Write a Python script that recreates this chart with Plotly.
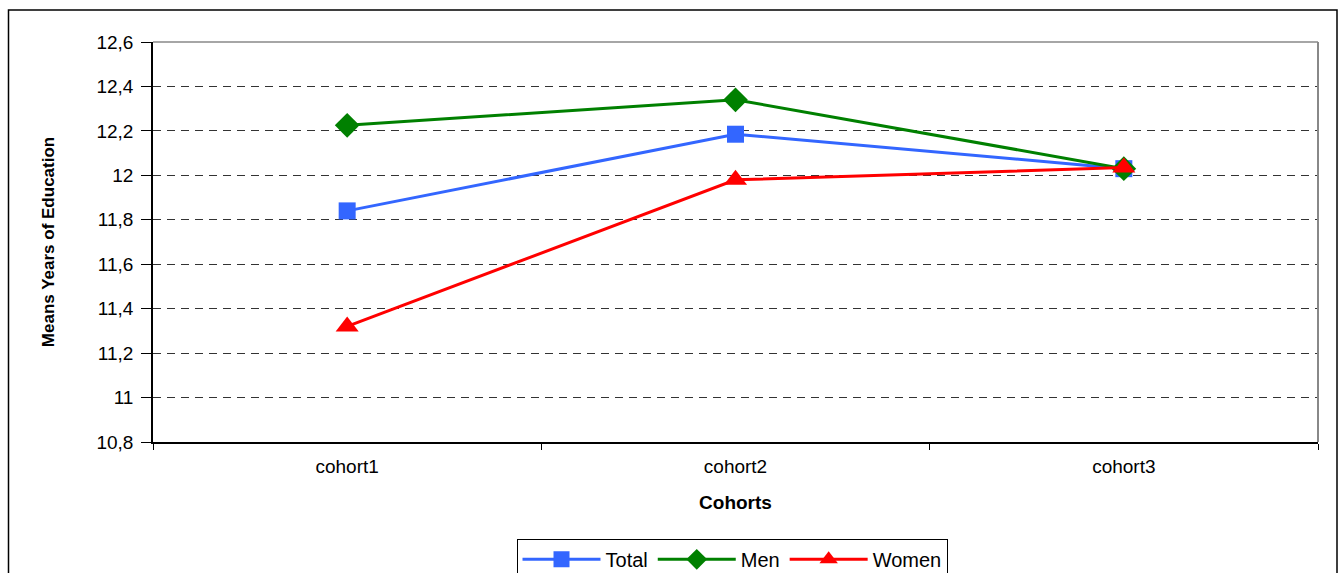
import plotly.graph_objects as go

categories = ["cohort1", "cohort2", "cohort3"]
total = [11.84, 12.185, 12.03]
men = [12.225, 12.34, 12.03]
women = [11.32, 11.98, 12.035]
y_tickvals = [10.8, 11.0, 11.2, 11.4, 11.6, 11.8, 12.0, 12.2, 12.4, 12.6]
y_ticktext = ["10,8", "11", "11,2", "11,4", "11,6", "11,8", "12", "12,2", "12,4", "12,6"]

FONT = "Liberation Sans, Arial, sans-serif"

fig = go.Figure()
fig.add_trace(go.Scatter(x=categories, y=total, name="Total", mode="lines+markers",
                         line=dict(color="#3366FF", width=3),
                         marker=dict(symbol="square", size=17, color="#3366FF")))
fig.add_trace(go.Scatter(x=categories, y=men, name="Men", mode="lines+markers",
                         line=dict(color="#008000", width=3),
                         marker=dict(symbol="diamond", size=19, color="#008000")))
fig.add_trace(go.Scatter(x=categories, y=women, name="Women", mode="lines+markers",
                         line=dict(color="#FF0000", width=3),
                         marker=dict(symbol="triangle-up", size=20, color="#FF0000")))

fig.update_layout(
    width=1344, height=600,
    margin=dict(l=153, r=26, t=42, b=158),
    paper_bgcolor="white", plot_bgcolor="white",
    font=dict(family=FONT, color="black", size=19),
    showlegend=True,
    legend=dict(orientation="h", x=0.497, xanchor="center", y=-0.242, yanchor="top",
                bordercolor="black", borderwidth=1, font=dict(size=20),
                itemwidth=78, tracegroupgap=0),
    xaxis=dict(type="category", range=[-0.5, 2.5], showgrid=False,
               showline=True, linecolor="black", linewidth=1.5,
               ticks="outside", tickson="boundaries", ticklen=6, tickcolor="black",
               tickfont=dict(size=19), ticklabelstandoff=6,
               title=dict(text="<b>Cohorts</b>", font=dict(size=19), standoff=20)),
    yaxis=dict(range=[10.8, 12.6], tickvals=y_tickvals, ticktext=y_ticktext,
               showgrid=True, gridcolor="#333333", griddash="8px,6px", gridwidth=1,
               showline=True, linecolor="black", linewidth=1.5,
               ticks="outside", ticklen=10, tickcolor="black",
               tickfont=dict(size=19), zeroline=False, ticklabelstandoff=4,
               title=dict(text="<b>Means Years of Education</b>", font=dict(size=17), standoff=38)),
)

# grey top and right plot border
fig.add_shape(type="line", xref="paper", yref="paper", x0=0, x1=1, y0=1, y1=1,
              line=dict(color="#888888", width=1.5))
fig.add_shape(type="line", xref="paper", yref="paper", x0=1, x1=1, y0=0, y1=1,
              line=dict(color="#888888", width=2))
# outer chart border
fig.add_shape(type="rect", xref="paper", yref="paper",
              x0=(8.5 - 153) / 1165, x1=(1337 - 153) / 1165,
              y0=-(598 - 442) / 400, y1=(442 - 10) / 400,
              line=dict(color="black", width=1.5), layer="below")

fig.write_html("out.html", config={"displayModeBar": False},
               post_script="document.body.style.margin='0';document.body.style.overflow='hidden';")
